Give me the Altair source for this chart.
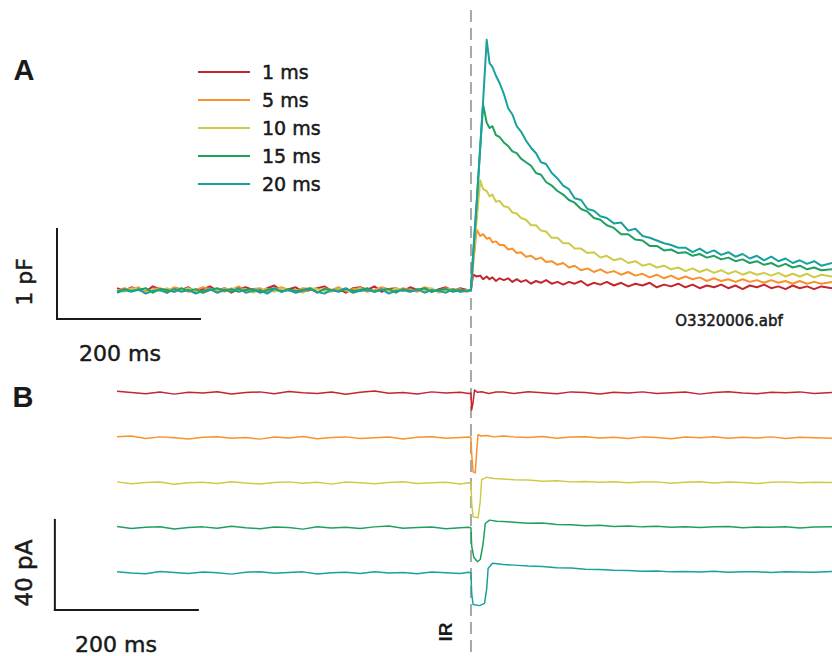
import altair as alt
import pandas as pd

# ---------------- data ----------------
LABELS = ["1 ms", "5 ms", "10 ms", "15 ms", "20 ms"]
COLORS = ["#c4262e", "#f7922c", "#cfca48", "#20a05e", "#18a19e"]

# Panel A: membrane capacitance change (pF), time in ms relative to IR pulse
A_PRE_T = [-495, -485, -475, -465, -455, -445, -435, -425, -415, -405,
           -395, -385, -375, -365, -355, -345, -335, -325, -315, -305,
           -295, -285, -275, -265, -255, -245, -235, -225, -215, -205,
           -195, -185, -175, -165, -155, -145, -135, -125, -115, -105,
           -95, -85, -75, -65, -55, -45, -35, -25, -15, -5]
A_POST_T = [0, 3, 8, 13, 17, 22, 26, 30, 35, 40,
            46, 52, 58, 64, 70, 77, 84, 91, 98, 105,
            113, 121, 129, 137, 145, 154, 163, 172, 181, 190,
            200, 210, 220, 230, 240, 250, 260, 270, 280, 290,
            300, 310, 320, 330, 340, 350, 360, 370, 380, 390,
            400, 410, 420, 430, 440, 450, 460, 470, 480, 490,
            505]

A_PRE = {
    "1 ms": [0.02, -0.01, 0.03, 0.00, -0.02, 0.04, 0.01, -0.03, 0.02, 0.00,
             0.03, -0.02, 0.01, 0.04, -0.01, 0.02, -0.03, 0.01, 0.03, 0.00,
             -0.02, 0.02, 0.05, -0.01, 0.01, 0.03, -0.02, 0.00, 0.02, 0.04,
             -0.01, 0.01, -0.03, 0.02, 0.03, 0.00, 0.04, -0.02, 0.01, 0.02,
             -0.01, 0.03, 0.00, 0.02, -0.02, 0.01, 0.03, -0.01, 0.02, 0.00],
    "5 ms": [-0.01, 0.02, 0.00, 0.03, -0.02, 0.01, 0.02, -0.01, 0.03, 0.01,
             -0.02, 0.00, 0.03, 0.01, -0.03, 0.02, 0.00, 0.04, -0.01, 0.01,
             0.02, -0.02, 0.01, 0.03, 0.00, -0.01, 0.02, 0.01, -0.03, 0.02,
             0.00, 0.03, -0.01, 0.01, 0.02, -0.02, 0.00, 0.03, 0.01, -0.01,
             0.02, 0.00, -0.02, 0.03, 0.01, -0.01, 0.02, 0.00, 0.01, -0.02],
    "10 ms": [0.00, -0.02, 0.02, 0.01, -0.03, 0.01, -0.01, 0.02, -0.02, 0.00,
              0.02, -0.01, -0.03, 0.01, 0.00, -0.02, 0.02, -0.01, 0.01, -0.03,
              0.00, 0.01, -0.02, 0.02, -0.01, 0.00, -0.03, 0.02, 0.01, -0.01,
              -0.02, 0.01, 0.00, -0.03, 0.02, 0.00, -0.01, 0.01, -0.02, 0.02,
              0.00, -0.02, 0.01, -0.01, 0.02, -0.03, 0.00, 0.01, -0.02, 0.00],
    "15 ms": [-0.02, 0.01, -0.01, 0.00, 0.02, -0.03, 0.01, 0.00, -0.02, 0.02,
              -0.01, 0.01, -0.03, 0.00, 0.02, -0.01, 0.01, -0.02, 0.00, 0.01,
              -0.03, 0.00, 0.02, -0.02, 0.01, -0.01, 0.00, 0.02, -0.03, 0.01,
              0.00, -0.02, 0.01, -0.01, 0.00, 0.02, -0.02, 0.00, 0.01, -0.03,
              0.01, -0.01, 0.00, 0.02, -0.02, 0.00, 0.01, -0.02, 0.00, -0.01],
    "20 ms": [-0.03, 0.00, -0.02, 0.01, -0.04, -0.01, 0.00, -0.03, 0.01, -0.02,
              0.00, -0.04, -0.01, 0.01, -0.03, 0.00, -0.02, 0.02, -0.03, -0.01,
              0.00, -0.04, 0.01, -0.02, 0.00, -0.03, -0.01, 0.01, -0.02, -0.04,
              0.00, -0.01, 0.02, -0.03, -0.01, 0.00, -0.02, 0.01, -0.04, -0.01,
              0.00, -0.02, 0.01, -0.03, 0.00, -0.01, -0.03, 0.01, -0.02, -0.01],
}

A_POST = {
    "1 ms": [0.00, 0.17, 0.15, 0.16, 0.12, 0.15, 0.12, 0.14, 0.10, 0.13,
             0.11, 0.13, 0.09, 0.12, 0.09, 0.11, 0.07, 0.10, 0.08, 0.11,
             0.07, 0.09, 0.06, 0.09, 0.07, 0.10, 0.05, 0.08, 0.06, 0.09,
             0.05, 0.08, 0.04, 0.07, 0.05, 0.08, 0.03, 0.06, 0.04, 0.07,
             0.03, 0.06, 0.02, 0.05, 0.03, 0.06, 0.02, 0.05, 0.01, 0.05,
             0.03, 0.06, 0.02, 0.04, 0.01, 0.05, 0.02, 0.04, 0.01, 0.04,
             0.02],
    "5 ms": [0.00, 0.28, 0.67, 0.60, 0.62, 0.57, 0.58, 0.53, 0.54, 0.50,
             0.50, 0.45, 0.46, 0.41, 0.42, 0.37, 0.38, 0.34, 0.36, 0.31,
             0.32, 0.28, 0.30, 0.25, 0.27, 0.22, 0.24, 0.20, 0.23, 0.19,
             0.21, 0.17, 0.20, 0.16, 0.18, 0.14, 0.17, 0.13, 0.16, 0.12,
             0.15, 0.12, 0.14, 0.10, 0.13, 0.10, 0.12, 0.09, 0.12, 0.09,
             0.11, 0.08, 0.11, 0.08, 0.10, 0.07, 0.10, 0.07, 0.09, 0.07,
             0.09],
    "10 ms": [0.00, 0.32, 0.78, 1.22, 1.12, 1.10, 1.04, 1.06, 0.98, 0.99,
              0.93, 0.92, 0.86, 0.85, 0.80, 0.78, 0.72, 0.72, 0.66, 0.65,
              0.58, 0.58, 0.52, 0.52, 0.46, 0.46, 0.41, 0.42, 0.36, 0.38,
              0.33, 0.35, 0.30, 0.32, 0.27, 0.29, 0.25, 0.27, 0.23, 0.25,
              0.21, 0.24, 0.20, 0.23, 0.19, 0.22, 0.18, 0.21, 0.17, 0.20,
              0.17, 0.19, 0.16, 0.19, 0.15, 0.18, 0.15, 0.18, 0.14, 0.17,
              0.15],
    "15 ms": [0.00, 0.38, 0.96, 1.58, 2.06, 1.86, 1.80, 1.82, 1.72, 1.70,
              1.64, 1.60, 1.54, 1.52, 1.46, 1.42, 1.38, 1.30, 1.28, 1.20,
              1.16, 1.10, 1.06, 1.00, 0.97, 0.90, 0.87, 0.80, 0.78, 0.72,
              0.69, 0.62, 0.62, 0.56, 0.55, 0.49, 0.49, 0.44, 0.45, 0.41,
              0.42, 0.38, 0.40, 0.36, 0.38, 0.34, 0.36, 0.32, 0.34, 0.30,
              0.32, 0.28, 0.30, 0.26, 0.29, 0.25, 0.27, 0.23, 0.25, 0.22,
              0.23],
    "20 ms": [0.00, 0.40, 0.98, 1.60, 2.10, 2.78, 2.52, 2.48, 2.38, 2.30,
              2.18, 2.02, 1.95, 1.82, 1.76, 1.66, 1.58, 1.52, 1.42, 1.40,
              1.30, 1.24, 1.16, 1.12, 1.02, 1.00, 0.90, 0.88, 0.82, 0.80,
              0.74, 0.75, 0.66, 0.68, 0.60, 0.58, 0.55, 0.52, 0.50, 0.47,
              0.47, 0.42, 0.46, 0.41, 0.44, 0.39, 0.42, 0.37, 0.40, 0.35,
              0.38, 0.33, 0.37, 0.32, 0.35, 0.30, 0.33, 0.29, 0.32, 0.27,
              0.30],
}

# Panel B: membrane current (pA), each trace relative to its own baseline
B_PRE_T = [-495, -475, -455, -435, -415, -395, -375, -355, -335, -315,
           -295, -275, -255, -235, -215, -195, -175, -155, -135, -115,
           -95, -75, -55, -35, -15, -3]
B_POST_T = [45, 60, 80, 100, 120, 140, 160, 180, 200, 220,
            240, 260, 280, 300, 320, 340, 360, 380, 400, 420,
            440, 460, 480, 505]

B_PRE = {
    "1 ms": [0.8, 0.2, -0.3, 0.4, -0.5, 0.3, 0.0, 0.6, -0.4, 0.2,
             0.5, -0.3, 0.7, 0.1, -0.2, 0.4, -0.6, 0.3, 0.9, -0.1,
             0.2, -0.4, 0.5, 0.0, 0.3, -0.2],
    "5 ms": [0.6, 0.9, -0.2, 0.5, 0.1, -0.4, 0.3, 0.6, -0.1, 0.2,
             -0.5, 0.4, 0.0, 0.7, -0.3, 0.2, 0.5, -0.2, 0.1, 0.4,
             -0.4, 0.3, 0.6, -0.1, 0.2, 0.4],
    "10 ms": [0.5, -0.3, 0.2, 0.4, -0.6, 0.1, 0.3, -0.2, 0.6, 0.0,
              -0.4, 0.2, 0.5, -0.1, 0.3, -0.5, 0.4, 0.1, -0.3, 0.2,
              0.6, -0.2, 0.1, 0.3, -0.4, 0.1],
    "15 ms": [0.7, -0.2, 0.3, 0.6, -0.4, 0.2, 0.5, -0.1, 0.8, 0.1,
              -0.3, 0.4, 0.2, -0.5, 0.6, 0.0, 0.3, -0.2, 0.5, 0.9,
              -0.1, 0.2, 0.4, -0.3, 0.1, 0.3],
    "20 ms": [0.6, 0.0, -0.3, 0.7, 0.2, -0.2, 0.4, 0.1, -0.5, 0.3,
              0.6, -0.1, 0.2, 0.5, -0.4, 0.1, 0.3, -0.2, 0.6, 0.0,
              0.2, -0.3, 0.4, 0.1, -0.2, 0.3],
}

B_EVENT_T = {
    "1 ms": [0, 1, 3, 5, 9, 15, 25, 35],
    "5 ms": [0, 1, 3, 6, 8, 10, 14, 22, 32],
    "10 ms": [0, 1, 3, 10, 13, 15, 22, 32],
    "15 ms": [0, 1, 4, 9, 13, 17, 20, 26, 36],
    "20 ms": [0, 1, 3, 12, 19, 22, 24, 30, 40],
}
B_EVENT = {
    "1 ms": [0.0, -7.5, -4.0, 1.3, 0.3, 0.6, -0.2, 0.4],
    "5 ms": [0.3, -7.0, -15.0, -15.5, -6.0, 1.5, 0.9, 1.1, 0.5],
    "10 ms": [0.0, -9.0, -15.0, -15.5, -8.0, 1.5, 2.6, 2.0],
    "15 ms": [0.0, -8.0, -13.0, -15.0, -14.0, -7.0, 2.0, 3.5, 3.0],
    "20 ms": [0.0, -9.0, -14.0, -14.5, -13.5, -7.0, 2.0, 4.3, 4.0],
}

B_POST = {
    "1 ms": [0.4, -0.2, 0.6, 0.1, -0.3, 0.5, 0.2, -0.4, 0.3, 0.0,
             0.5, -0.2, 0.1, 0.4, -0.5, 0.2, 0.6, 0.0, -0.3, 0.3,
             0.1, 0.5, -0.2, 0.2],
    "5 ms": [0.9, 0.5, 0.2, 0.7, -0.1, 0.4, 0.6, 0.0, 0.3, -0.2,
             0.5, 0.2, -0.3, 0.4, 0.1, 0.6, -0.1, 0.3, 0.0, 0.5,
             -0.2, 0.3, 0.1, -0.1],
    "10 ms": [1.8, 1.4, 1.3, 0.8, 1.0, 0.5, 0.7, 0.3, 0.6, 0.1,
              0.4, 0.5, -0.1, 0.3, 0.6, 0.0, 0.4, 0.2, -0.2, 0.3,
              0.5, 0.1, 0.3, 0.2],
    "15 ms": [2.9, 2.6, 2.1, 2.2, 1.6, 1.4, 1.0, 1.2, 0.7, 0.9,
              0.5, 0.8, 0.3, 0.6, 0.2, 0.5, 0.7, 0.1, 0.4, 0.3,
              0.6, 0.0, 0.4, 0.5],
    "20 ms": [3.8, 3.5, 3.1, 2.9, 2.3, 2.2, 1.7, 1.5, 1.2, 1.1,
              0.8, 0.9, 0.5, 0.7, 0.4, 0.8, 0.3, 0.6, 0.5, 0.2,
              0.6, 0.4, 0.3, 0.7],
}

IR_TIME = 0
SCALE_MS = 200
SCALE_PF = 1
SCALE_PA = 40
B_OFFSET_PA = 20   # vertical separation of the stacked current traces

# ---------------- tables ----------------
rows_a = []
for lab in LABELS:
    ts = A_PRE_T + A_POST_T
    vs = A_PRE[lab] + A_POST[lab]
    assert len(ts) == len(vs), lab
    for i, (t, v) in enumerate(zip(ts, vs)):
        rows_a.append({"t": t, "pF": v, "trace": lab, "i": i})
df_a = pd.DataFrame(rows_a)

rows_b = []
for k, lab in enumerate(LABELS):
    ts = B_PRE_T + B_EVENT_T[lab] + B_POST_T
    vs = B_PRE[lab] + B_EVENT[lab] + B_POST[lab]
    assert len(ts) == len(vs), lab
    for i, (t, v) in enumerate(zip(ts, vs)):
        rows_b.append({"t": t, "pA": v, "trace": lab, "k": k, "i": i})
df_b = pd.DataFrame(rows_b)

# ---------------- scales ----------------
X_SCALE = alt.Scale(domain=[-658.74, 505], nice=False, zero=False)
YA = alt.Scale(domain=[-4.0667, 3.2222], nice=False, zero=False)
YB = alt.Scale(domain=[-116.89, 174.67], nice=False, zero=False)
COLOR = alt.Color("trace:N", scale=alt.Scale(domain=LABELS, range=COLORS), legend=None)
INK = "#1a1a1a"
LABEL_FONT = "DejaVu Sans"
BOLD_FONT = "Liberation Sans"

x_enc = alt.X("t:Q", scale=X_SCALE, axis=None)

traces_a = alt.Chart(df_a).mark_line(strokeWidth=2.0, strokeJoin="round").encode(
    x=x_enc,
    y=alt.Y("pF:Q", scale=YA, axis=None),
    color=COLOR,
    detail="trace:N",
    order="i:Q",
)

traces_b = alt.Chart(df_b).transform_calculate(
    shown=f"datum.pA - {B_OFFSET_PA} * datum.k"
).mark_line(strokeWidth=1.5, strokeJoin="round").encode(
    x=x_enc,
    y=alt.Y("shown:Q", scale=YB, axis=None),
    color=COLOR,
    detail="trace:N",
    order="i:Q",
)

ir_line = alt.Chart(pd.DataFrame({"t": [IR_TIME]})).mark_rule(
    color="#a8a8a8", strokeWidth=2, strokeDash=[12, 6]
).encode(x=x_enc, y=alt.value(10), y2=alt.value(656))

# scale bars (in data units)
bar_a_origin_t, bar_a_origin_v = -579, -0.322
bars_a = alt.Chart(pd.DataFrame({
    "x": [bar_a_origin_t, bar_a_origin_t],
    "x2": [bar_a_origin_t, bar_a_origin_t + SCALE_MS],
    "y": [bar_a_origin_v, bar_a_origin_v],
    "y2": [bar_a_origin_v + SCALE_PF, bar_a_origin_v],
})).mark_rule(color=INK, strokeWidth=2, strokeCap="square").encode(
    x=alt.X("x:Q", scale=X_SCALE, axis=None), x2="x2:Q",
    y=alt.Y("y:Q", scale=YA, axis=None), y2="y2:Q",
)

bar_b_origin_t, bar_b_origin_v = -582, -96.4
bars_b = alt.Chart(pd.DataFrame({
    "x": [bar_b_origin_t, bar_b_origin_t],
    "x2": [bar_b_origin_t, bar_b_origin_t + SCALE_MS],
    "y": [bar_b_origin_v, bar_b_origin_v],
    "y2": [bar_b_origin_v + SCALE_PA, bar_b_origin_v],
})).mark_rule(color=INK, strokeWidth=2, strokeCap="square").encode(
    x=alt.X("x:Q", scale=X_SCALE, axis=None), x2="x2:Q",
    y=alt.Y("y:Q", scale=YB, axis=None), y2="y2:Q",
)

# legend
leg_df = pd.DataFrame({"trace": LABELS})
leg_y = alt.Y("trace:N", scale=alt.Scale(type="point", domain=LABELS, range=[72, 184], padding=0), axis=None)
leg_lines = alt.Chart(leg_df).mark_rule(strokeWidth=2.2).encode(
    x=alt.value(198), x2=alt.value(250), y=leg_y, color=COLOR
)
leg_text = alt.Chart(leg_df).mark_text(
    align="left", baseline="middle", font=LABEL_FONT, fontSize=19, color=INK,
    stroke=INK, strokeWidth=0.5, dy=1
).encode(x=alt.value(262), y=leg_y, text="trace:N")


def label(txt, x, y, size, font=LABEL_FONT, bold=False, angle=0):
    kw = dict(align="center", baseline="middle", font=font, fontSize=size, color=INK)
    if bold:
        kw["fontWeight"] = "bold"
    else:
        kw["stroke"] = INK
        kw["strokeWidth"] = 0.5
    if angle:
        kw["angle"] = angle
    return alt.Chart(pd.DataFrame({"s": [txt]})).mark_text(**kw).encode(
        x=alt.value(x), y=alt.value(y), text="s:N"
    )


texts = [
    label("A", 24, 71, 29, font=BOLD_FONT, bold=True),
    label("B", 23, 398, 29, font=BOLD_FONT, bold=True),
    label("1 pF", 25, 282, 22, angle=270),
    label("200 ms", 120, 354, 22),
    label("40 pA", 25, 573, 23, angle=270),
    label("200 ms", 116, 645, 22),
    label("O3320006.abf", 729, 321, 15),
    label("IR", 446, 632, 19, font=BOLD_FONT, bold=True, angle=270),
]

chart = alt.layer(
    ir_line, traces_a, traces_b, bars_a, bars_b, leg_lines, leg_text, *texts
).resolve_scale(y="independent").properties(
    width=832, height=656, padding=0,
    autosize=alt.AutoSizeParams(type="none"),
    background="white",
).configure_view(stroke=None)

chart.save("out.html", embed_options={"renderer": "svg", "actions": False})
